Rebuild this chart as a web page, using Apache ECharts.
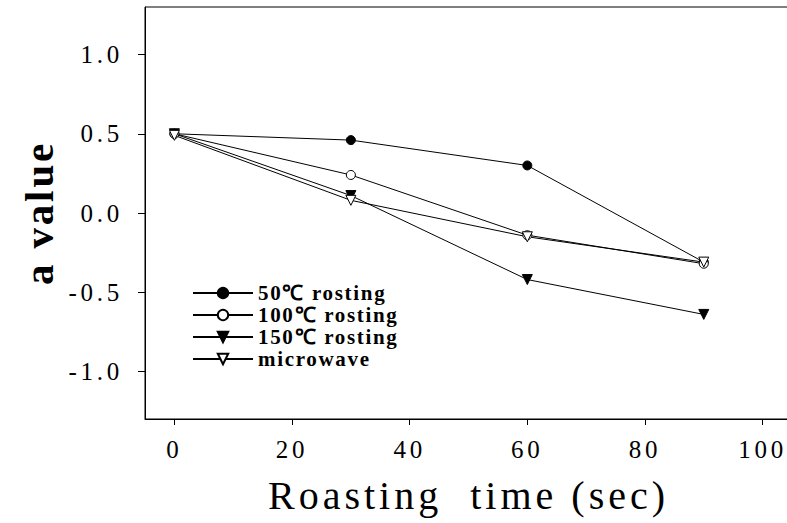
<!DOCTYPE html>
<html>
<head>
<meta charset="utf-8">
<script src="https://cdn.jsdelivr.net/npm/echarts@6/dist/echarts.min.js"></script>
<style>
  html, body { margin: 0; padding: 0; background: #fff; }
  #chart { width: 787px; height: 523px; }
  /* the original font is a wide, loosely spaced serif */
  #chart text { letter-spacing: 0.1em; }
  #chart text[style*="25px"] { letter-spacing: 0.15em; }
  #chart text[style*="21px"] { letter-spacing: 0.08em; }
  #chart text[style*="41px"] { letter-spacing: 0.07em; }
</style>
</head>
<body>
<div id="chart"></div>
<script>
// roasting time (sec)
const times = [0, 30, 60, 90];
// a value per treatment
const roast50 = [0.50, 0.46, 0.30, -0.31];
const roast100 = [0.50, 0.24, -0.14, -0.32];
const roast150 = [0.50, 0.11, -0.42, -0.64];
const microwave = [0.49, 0.08, -0.15, -0.31];
const seriesNames = ['50℃ rosting', '100℃ rosting', '150℃ rosting', 'microwave'];
const xTicks = [0, 20, 40, 60, 80, 100];
const yTicks = [-1.0, -0.5, 0.0, 0.5, 1.0];

const font = 'Liberation Serif';
const ink = '#000';

function pairs (vals) {
  return times.map((t, i) => [t, vals[i]]);
}

function makeSeries (name, vals, symbol, filled, rotate) {
  return {
    name: name,
    type: 'line',
    data: pairs(vals),
    symbol: symbol,
    symbolSize: symbol === 'circle' ? 9 : 10,
    symbolRotate: rotate,
    showAllSymbol: true,
    lineStyle: { color: ink, width: 1 },
    itemStyle: {
      color: filled ? ink : '#fff',
      borderColor: ink,
      borderWidth: 1
    },
    emphasis: { disabled: true },
    animation: false
  };
}

const chart = echarts.init(document.getElementById('chart'), null, { renderer: 'svg' });
const option = {
  backgroundColor: '#fff',
  animation: false,
  grid: {
    left: 145,
    top: 7,
    right: -5,
    bottom: 104,
    show: true,
    borderColor: ink,
    borderWidth: 1,
    backgroundColor: 'transparent',
    outerBoundsMode: 'none'
  },
  legend: {
    orient: 'vertical',
    left: 187,
    top: 277,
    itemWidth: 60,
    itemHeight: 13,
    itemGap: 0,
    selectedMode: false,
    data: seriesNames,
    textStyle: {
      fontFamily: font,
      fontSize: 21,
      fontWeight: 'bold',
      lineHeight: 22,
      color: ink
    }
  },
  xAxis: {
    type: 'value',
    min: -5,
    max: 105,
    name: 'Roasting  time (sec)',
    nameLocation: 'middle',
    nameGap: 56,
    nameTextStyle: { fontFamily: font, fontSize: 40, color: ink },
    splitLine: { show: false },
    axisLine: { show: true, onZero: false, lineStyle: { color: ink, width: 1 } },
    axisTick: {
      show: true,
      length: 6,
      customValues: xTicks,
      lineStyle: { color: ink }
    },
    axisLabel: {
      customValues: xTicks,
      margin: 18,
      fontFamily: font,
      fontSize: 25,
      color: ink
    }
  },
  yAxis: {
    type: 'value',
    min: -1.3,
    max: 1.3,
    name: 'a value',
    nameLocation: 'middle',
    nameGap: 86,
    nameTextStyle: { fontFamily: font, fontSize: 41, fontWeight: 'bold', color: ink },
    splitLine: { show: false },
    axisLine: { show: true, onZero: false, lineStyle: { color: ink, width: 1 } },
    axisTick: {
      show: true,
      length: 7,
      customValues: yTicks,
      lineStyle: { color: ink }
    },
    axisLabel: {
      customValues: yTicks,
      margin: 22,
      fontFamily: font,
      fontSize: 25,
      color: ink,
      formatter: v => v.toFixed(1)
    }
  },
  series: [
    makeSeries(seriesNames[0], roast50, 'circle', true, 0),
    makeSeries(seriesNames[1], roast100, 'circle', false, 0),
    makeSeries(seriesNames[2], roast150, 'triangle', true, 180),
    makeSeries(seriesNames[3], microwave, 'triangle', false, 180)
  ]
};
chart.setOption(option);
</script>
</body>
</html>
